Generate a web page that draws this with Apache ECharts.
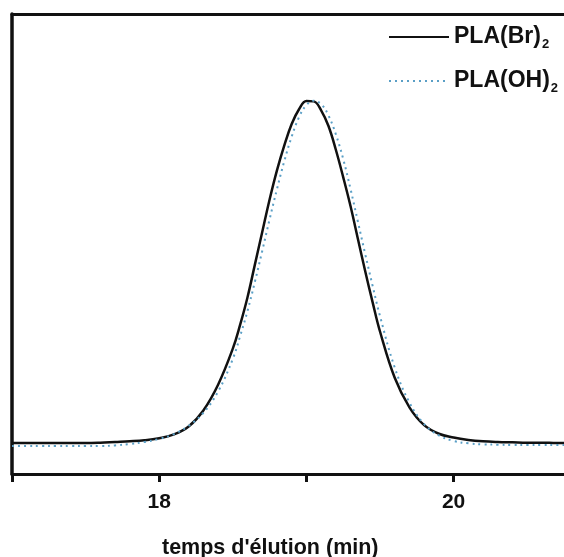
<!DOCTYPE html>
<html>
<head>
<meta charset="utf-8">
<script src="https://cdn.jsdelivr.net/npm/echarts@6/dist/echarts.min.js"></script>
<style>
  html, body { margin: 0; padding: 0; background: #fff; }
  #main { width: 564px; height: 557px; }
</style>
</head>
<body>
<div id="main"></div>
<script>
// temps d'élution (min)
var temps = [17.0, 17.1, 17.2, 17.3, 17.4, 17.5, 17.6, 17.7, 17.8, 17.9,
             18.0, 18.1, 18.2, 18.3, 18.4,
             18.5, 18.55, 18.6, 18.65, 18.7, 18.75, 18.8, 18.85, 18.9, 18.95,
             19.0, 19.05, 19.1, 19.15, 19.2, 19.25, 19.3, 19.35, 19.4, 19.45, 19.5,
             19.6, 19.7, 19.8, 19.9,
             20.0, 20.1, 20.2, 20.3, 20.4, 20.5, 20.6, 20.7, 20.75];
// PLA(Br)2 - trait plein
var plaBr = [0.000, 0.000, 0.000, 0.000, 0.000, 0.000, 0.001, 0.003, 0.005, 0.008,
             0.014, 0.025, 0.048, 0.095, 0.170,
             0.275, 0.345, 0.425, 0.520, 0.615, 0.710, 0.795, 0.868, 0.930, 0.973,
             0.997, 0.996, 0.970, 0.924, 0.855, 0.775, 0.690, 0.595, 0.500, 0.410, 0.325,
             0.190, 0.104, 0.052, 0.027,
             0.016, 0.009, 0.005, 0.003, 0.002, 0.001, 0.001, 0.000, 0.000];
// PLA(OH)2 - pointillés
var plaOH = [-0.009, -0.009, -0.009, -0.009, -0.009, -0.009, -0.009, -0.007, -0.003, 0.003,
             0.012, 0.026, 0.050, 0.088, 0.150,
             0.245, 0.312, 0.385, 0.470, 0.560, 0.652, 0.740, 0.822, 0.893, 0.950,
             0.985, 0.998, 0.988, 0.955, 0.900, 0.828, 0.740, 0.645, 0.550, 0.458, 0.370,
             0.220, 0.118, 0.055, 0.022,
             0.006, -0.001, -0.004, -0.005, -0.006, -0.006, -0.006, -0.006, -0.006];
var xLabels = ['18', '20'];

function paires(ys) {
  return temps.map(function (t, i) { return [t, ys[i]]; });
}

var myChart = echarts.init(document.getElementById('main'));
var police = '"Liberation Sans", Arial, sans-serif';

var option = {
  backgroundColor: '#fff',
  animation: false,
  title: {
    text: "temps d'élution (min)",
    left: 157,
    top: 532,
    textStyle: { fontFamily: police, fontSize: 21.5, fontWeight: 'bold', color: '#111' }
  },
  legend: {
    orient: 'vertical',
    left: 383,
    top: 18,
    itemWidth: 60,
    itemHeight: 14,
    itemGap: 16,
    itemStyle: { opacity: 0 },
    data: ['PLA(Br)2', 'PLA(OH)2'],
    formatter: function (name) {
      return name.slice(0, -1) + '{sub|2}';
    },
    textStyle: {
      fontFamily: police, fontSize: 23, fontWeight: 'bold', color: '#111', lineHeight: 28,
      rich: {
        sub: { fontFamily: police, fontSize: 13, fontWeight: 'bold', color: '#111', padding: [15, 0, 0, 1] }
      }
    }
  },
  grid: { left: 12, right: 0, top: 14, bottom: 83, containLabel: false },
  xAxis: [{
    type: 'value',
    min: 17,
    max: 20.75,
    interval: 1,
    position: 'bottom',
    axisLine: { onZero: false, lineStyle: { color: '#111', width: 3 } },
    axisTick: { inside: false, length: 8, lineStyle: { color: '#111', width: 3 } },
    axisLabel: {
      margin: 18,
      fontFamily: police, fontSize: 21, fontWeight: 'bold', color: '#111',
      showMaxLabel: false,
      formatter: function (v) {
        var s = String(Math.round(v));
        return xLabels.indexOf(s) >= 0 ? s : '';
      }
    },
    splitLine: { show: false }
  }, {
    type: 'value',
    min: 17,
    max: 20.75,
    position: 'top',
    axisLine: { show: true, onZero: false, lineStyle: { color: '#111', width: 3 } },
    axisTick: { show: false },
    axisLabel: { show: false },
    splitLine: { show: false }
  }],
  yAxis: {
    type: 'value',
    min: -0.0904,
    max: 1.2507,
    axisLine: { show: true, onZero: false, lineStyle: { color: '#111', width: 3.5 } },
    axisTick: { show: false },
    axisLabel: { show: false },
    splitLine: { show: false }
  },
  series: [{
    name: 'PLA(Br)2',
    type: 'line',
    data: paires(plaBr),
    smooth: 0.4,
    showSymbol: false,
    symbol: 'none',
    lineStyle: { color: '#111', width: 2.5, type: 'solid' },
    itemStyle: { color: '#111' }
  }, {
    name: 'PLA(OH)2',
    type: 'line',
    data: paires(plaOH),
    smooth: 0.4,
    showSymbol: false,
    symbol: 'none',
    lineStyle: { color: '#5a9fc6', width: 2, type: [2, 4] },
    itemStyle: { color: '#5a9fc6' }
  }]
};

myChart.setOption(option);
</script>
</body>
</html>
